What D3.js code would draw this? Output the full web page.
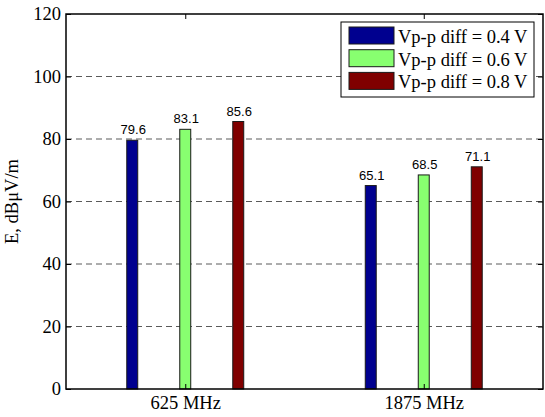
<!DOCTYPE html>
<html>
<head>
<meta charset="utf-8">
<script src="https://cdn.jsdelivr.net/npm/d3@7"></script>
<style>
  html, body { margin: 0; padding: 0; background: #fff; }
  svg { display: block; }
</style>
</head>
<body>
<svg id="chart" width="545" height="417"></svg>
<script>
// Field strength per frequency for three differential drive levels
const categories = ["625 MHz", "1875 MHz"];
const seriesNames = ["Vp-p diff = 0.4 V", "Vp-p diff = 0.6 V", "Vp-p diff = 0.8 V"];
const values04 = [79.6, 65.1];
const values06 = [83.1, 68.5];
const values08 = [85.6, 71.1];
const yTicks = [0, 20, 40, 60, 80, 100, 120];
const yLabel = "E, dBμV/m";

const seriesValues = [values04, values06, values08];
const colors = ["#00008f", "#88ff70", "#800000"];

const svg = d3.select("#chart");
const margin = { left: 66, top: 14, right: 2, bottom: 28 };
const W = 545, H = 417;
const x0 = margin.left, x1 = W - margin.right;
const y0 = H - margin.bottom, y1 = margin.top;

// Categories sit at 1 and 2 on a numeric axis spanning 0.5..2.5
const x = d3.scaleLinear().domain([0.5, categories.length + 0.5]).range([x0, x1]);
const y = d3.scaleLinear().domain([0, 120]).range([y0, y1]);

const serif = "'Liberation Serif', 'Times New Roman', serif";
const sans = "'Liberation Sans', Arial, sans-serif";
const serifSize = 18.5;

const nSeries = seriesValues.length;
const groupWidth = Math.min(0.8, nSeries / (nSeries + 1.5));
const barW = 0.046;
const offset = i => (i - (nSeries - 1) / 2) * groupWidth / nSeries;
const pos = d => d.ci + 1 + offset(d.si);

// dashed grid
svg.append("g")
  .selectAll("line")
  .data(yTicks.filter(t => t > 0 && t < 120))
  .join("line")
  .attr("x1", x0).attr("x2", x1)
  .attr("y1", d => y(d)).attr("y2", d => y(d))
  .attr("stroke", "#5a5a5a")
  .attr("stroke-width", 1)
  .attr("stroke-dasharray", "6,4");

// bars
const flat = [];
seriesValues.forEach((vals, si) => vals.forEach((v, ci) => flat.push({ si, ci, v })));

svg.append("g")
  .selectAll("rect")
  .data(flat)
  .join("rect")
  .attr("x", d => x(pos(d) - barW / 2))
  .attr("width", d => x(pos(d) + barW / 2) - x(pos(d) - barW / 2))
  .attr("y", d => y(d.v))
  .attr("height", d => y(0) - y(d.v))
  .attr("fill", d => colors[d.si])
  .attr("stroke", "#1a1a1a")
  .attr("stroke-width", 1);

// value labels
svg.append("g")
  .selectAll("text")
  .data(flat)
  .join("text")
  .attr("x", d => x(pos(d)) + 1)
  .attr("y", d => y(d.v) - 6)
  .attr("text-anchor", "middle")
  .attr("font-family", sans)
  .attr("font-size", 13)
  .attr("fill", "#000")
  .text(d => d.v.toFixed(1));

// axes box
svg.append("rect")
  .attr("x", x0).attr("y", y1)
  .attr("width", x1 - x0).attr("height", y0 - y1)
  .attr("fill", "none")
  .attr("stroke", "#000")
  .attr("stroke-width", 1.5);

// y axis (ticks inward) on both sides
const yAxisL = d3.axisLeft(y).tickValues(yTicks).tickSize(-5).tickPadding(5);
const gL = svg.append("g").attr("transform", `translate(${x0},0)`).call(yAxisL);
gL.select(".domain").remove();
gL.selectAll("line").attr("stroke", "#000");
gL.selectAll("text").attr("font-family", serif).attr("font-size", serifSize).attr("fill", "#000");

const yAxisR = d3.axisRight(y).tickValues(yTicks).tickSize(-5).tickFormat("");
const gR = svg.append("g").attr("transform", `translate(${x1},0)`).call(yAxisR);
gR.select(".domain").remove();
gR.selectAll("line").attr("stroke", "#000");

// x axis (ticks inward) bottom and top
const xAxisB = d3.axisBottom(x).tickValues(categories.map((c, i) => i + 1))
  .tickFormat((d, i) => categories[i]).tickSize(-5).tickPadding(7);
const gB = svg.append("g").attr("transform", `translate(0,${y0})`).call(xAxisB);
gB.select(".domain").remove();
gB.selectAll("line").attr("stroke", "#000");
gB.selectAll("text").attr("font-family", serif).attr("font-size", serifSize).attr("fill", "#000");

const xAxisT = d3.axisTop(x).tickValues(categories.map((c, i) => i + 1)).tickSize(-5).tickFormat("");
const gT = svg.append("g").attr("transform", `translate(0,${y1})`).call(xAxisT);
gT.select(".domain").remove();
gT.selectAll("line").attr("stroke", "#000");

// y label
svg.append("text")
  .attr("transform", `translate(18,${(y0 + y1) / 2}) rotate(-90)`)
  .attr("text-anchor", "middle")
  .attr("font-family", serif)
  .attr("font-size", serifSize)
  .attr("fill", "#000")
  .text(yLabel);

// legend
const lg = svg.append("g").attr("transform", "translate(341,22)");
lg.append("rect")
  .attr("width", 193).attr("height", 75)
  .attr("fill", "#fff").attr("stroke", "#000").attr("stroke-width", 1);
seriesNames.forEach((name, i) => {
  const row = lg.append("g").attr("transform", `translate(8,${5 + i * 22.7})`);
  row.append("rect")
    .attr("width", 45).attr("height", 17)
    .attr("fill", colors[i]).attr("stroke", "#1a1a1a").attr("stroke-width", 1);
  row.append("text")
    .attr("x", 49).attr("y", 16)
    .attr("font-family", serif)
    .attr("font-size", serifSize)
    .attr("fill", "#000")
    .text(name);
});
</script>
</body>
</html>
